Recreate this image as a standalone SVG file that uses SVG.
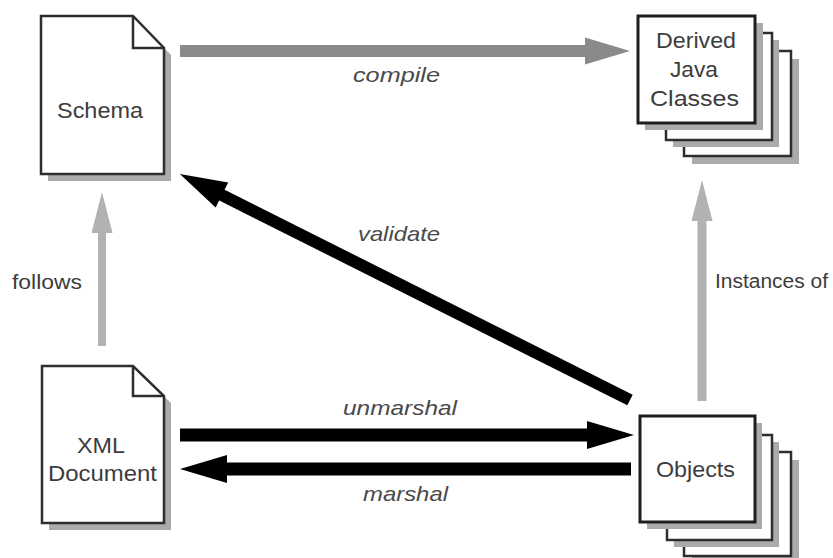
<svg xmlns="http://www.w3.org/2000/svg" width="833" height="558" viewBox="0 0 833 558">
<style>
  .bg{fill:#ffffff}
  .doc{fill:#ffffff;stroke:#2e2e2e;stroke-width:2.5;stroke-linejoin:miter}
  .fold{fill:none;stroke:#2e2e2e;stroke-width:2.5}
  .shadow{fill:#ababab;stroke:none}
  .box{fill:#ffffff;stroke:#2e2e2e;stroke-width:2.5}
  .boxf{fill:#ffffff;stroke:#1e1e1e;stroke-width:3}
  .ntext{font-family:"Liberation Sans",Arial,sans-serif;font-size:22px;fill:#3c3c3c}
  .label{font-family:"Liberation Sans",Arial,sans-serif;font-size:21px;fill:#4a4a4a;font-style:italic}
  .plain{font-family:"Liberation Sans",Arial,sans-serif;font-size:20px;fill:#3c3c3c}
  .black{stroke:#000000;fill:none}
  .gdark{stroke:#8a8a8a;fill:none}
  .glight{stroke:#b2b2b2;fill:none}
</style>
<defs>
  <marker id="ah-black" markerUnits="userSpaceOnUse" viewBox="0 -16 48 32" markerWidth="48" markerHeight="32" refX="0" refY="0" orient="auto" overflow="visible">
    <path d="M-1,-14 L46,0 L-1,14 Z" fill="#000000"/>
  </marker>
  <marker id="ah-gdark" markerUnits="userSpaceOnUse" viewBox="0 -16 48 32" markerWidth="48" markerHeight="32" refX="0" refY="0" orient="auto" overflow="visible">
    <path d="M-1,-13.5 L44,0 L-1,13.5 Z" fill="#8a8a8a"/>
  </marker>
  <marker id="ah-glight" markerUnits="userSpaceOnUse" viewBox="0 -16 48 32" markerWidth="48" markerHeight="32" refX="0" refY="0" orient="auto" overflow="visible">
    <path d="M-1,-10.5 L40,0 L-1,10.5 Z" fill="#b2b2b2"/>
  </marker>
</defs>
<rect class="bg" x="0" y="0" width="833" height="558"/>

<g id="connectors">
  <g id="edge-compile">
    <line class="gdark" x1="180" y1="51" x2="586" y2="51" stroke-width="12" marker-end="url(#ah-gdark)"/>
    <text class="label" x="353" y="82" textLength="87" lengthAdjust="spacingAndGlyphs">compile</text>
  </g>
  <g id="edge-follows">
    <line class="glight" x1="102" y1="346" x2="102" y2="232" stroke-width="8" marker-end="url(#ah-glight)"/>
    <text class="plain" x="12" y="289" textLength="70" lengthAdjust="spacingAndGlyphs">follows</text>
  </g>
  <g id="edge-instances">
    <line class="glight" x1="702" y1="401" x2="702" y2="220" stroke-width="9" marker-end="url(#ah-glight)"/>
    <text class="plain" x="715" y="288" textLength="113" lengthAdjust="spacingAndGlyphs">Instances of</text>
  </g>
  <g id="edge-validate">
    <line class="black" x1="630" y1="400" x2="221" y2="194.6" stroke-width="12" marker-end="url(#ah-black)"/>
    <text class="label" x="358" y="241" textLength="82" lengthAdjust="spacingAndGlyphs">validate</text>
  </g>
  <g id="edge-unmarshal">
    <line class="black" x1="180" y1="435" x2="588" y2="435" stroke-width="13" marker-end="url(#ah-black)"/>
    <text class="label" x="343" y="415" textLength="114" lengthAdjust="spacingAndGlyphs">unmarshal</text>
  </g>
  <g id="edge-marshal">
    <line class="black" x1="631" y1="469" x2="226" y2="469" stroke-width="13" marker-end="url(#ah-black)"/>
    <text class="label" x="363" y="501" textLength="85" lengthAdjust="spacingAndGlyphs">marshal</text>
  </g>
</g>

<g id="node-schema">
  <path class="shadow" d="M48,23 H140 L171,55 V181 H48 Z"/>
  <path class="doc" d="M41,16 H133 L164,48 V174 H41 Z"/>
  <path class="fold" d="M133,16 V48 H164"/>
  <text class="ntext" x="57" y="118" textLength="86" lengthAdjust="spacingAndGlyphs">Schema</text>
</g>

<g id="node-xml">
  <path class="shadow" d="M49,373 H140 L171,403 V530 H49 Z"/>
  <path class="doc" d="M42,366 H133 L164,396 V523 H42 Z"/>
  <path class="fold" d="M133,366 V396 H164"/>
  <text class="ntext" x="77" y="453" textLength="48" lengthAdjust="spacingAndGlyphs">XML</text>
  <text class="ntext" x="48" y="481" textLength="109" lengthAdjust="spacingAndGlyphs">Document</text>
</g>

<g id="node-classes">
  <rect class="shadow" x="692" y="59" width="107" height="105"/>
  <rect class="box" x="684" y="51" width="107" height="105"/>
  <rect class="shadow" x="673" y="40" width="106" height="107"/>
  <rect class="box" x="666" y="33" width="106" height="107"/>
  <rect class="shadow" x="645" y="23" width="118" height="107"/>
  <rect class="boxf" x="638" y="16" width="117" height="107"/>
  <text class="ntext" x="656" y="48" textLength="80" lengthAdjust="spacingAndGlyphs">Derived</text>
  <text class="ntext" x="670" y="77" textLength="48" lengthAdjust="spacingAndGlyphs">Java</text>
  <text class="ntext" x="650" y="106" textLength="89" lengthAdjust="spacingAndGlyphs">Classes</text>
</g>

<g id="node-objects">
  <rect class="shadow" x="692" y="460" width="107" height="104"/>
  <rect class="box" x="684" y="452" width="107" height="104"/>
  <rect class="shadow" x="674" y="442" width="105" height="105"/>
  <rect class="box" x="667" y="435" width="105" height="105"/>
  <rect class="shadow" x="647" y="423" width="115" height="106"/>
  <rect class="boxf" x="640" y="416" width="115" height="106"/>
  <text class="ntext" x="656" y="477" textLength="79" lengthAdjust="spacingAndGlyphs">Objects</text>
</g>
</svg>
